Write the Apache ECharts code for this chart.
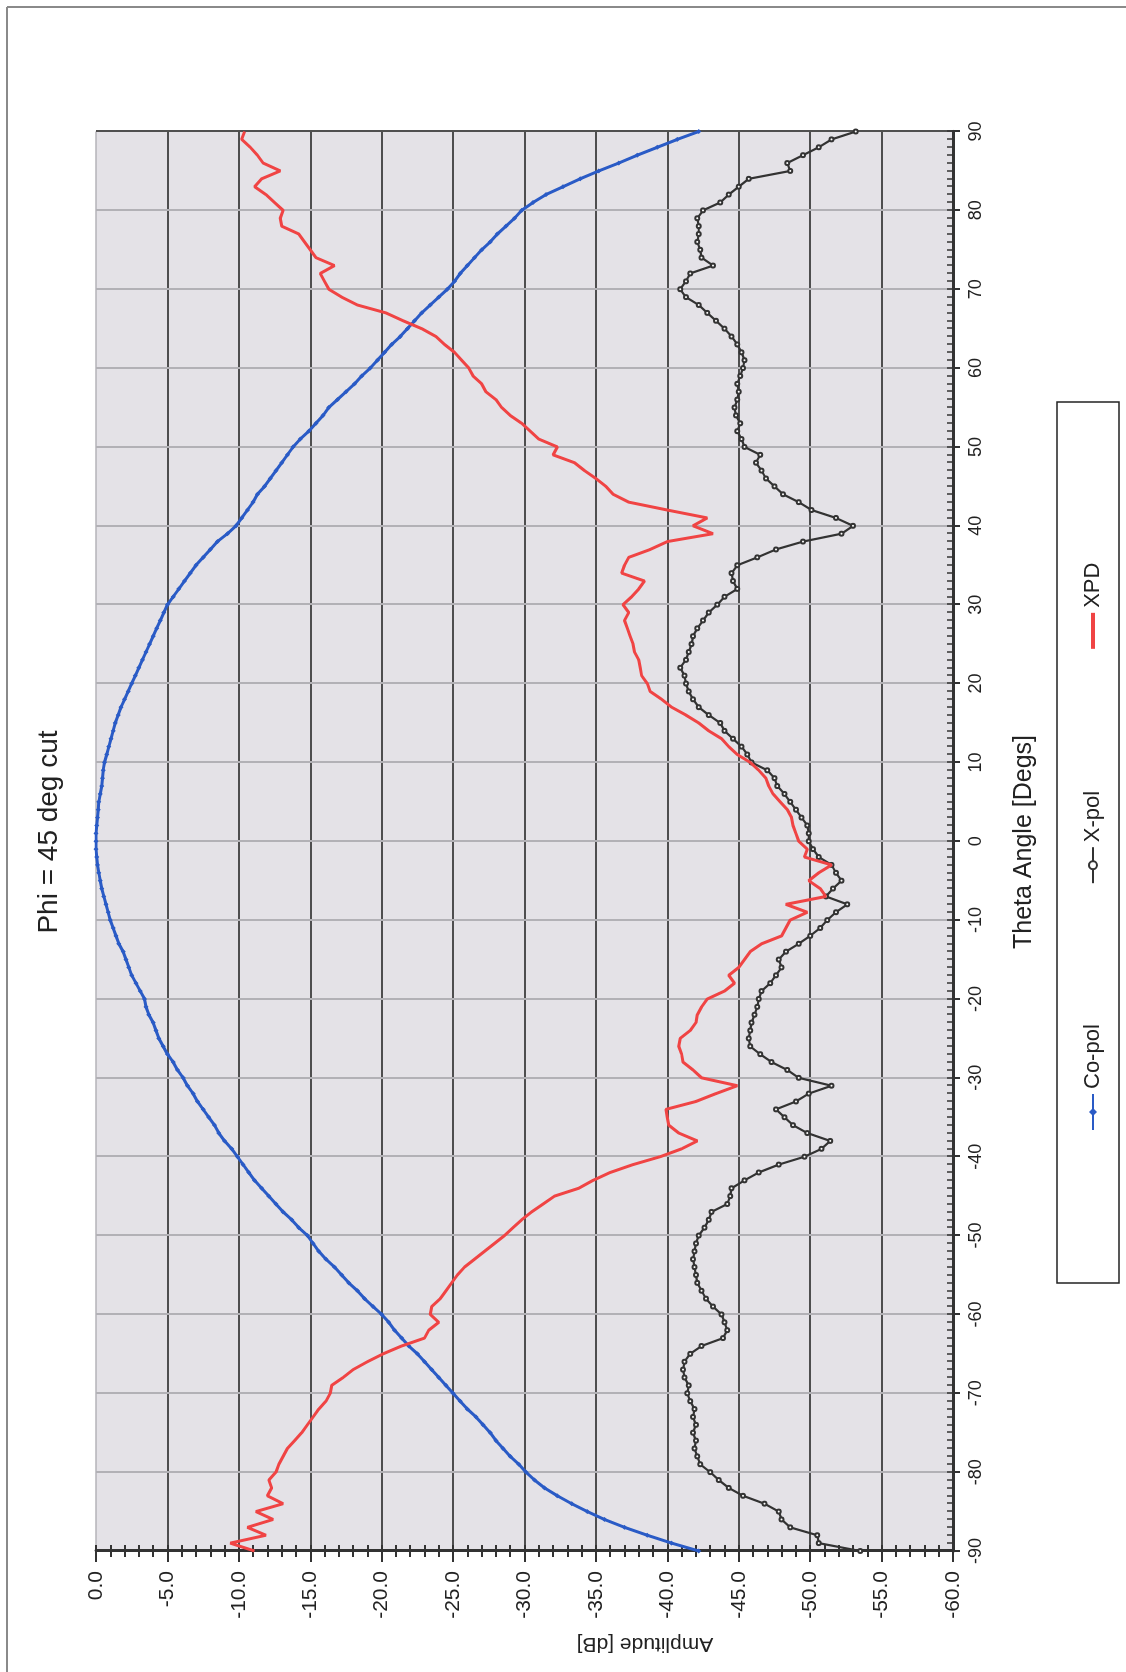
<!DOCTYPE html>
<html>
<head>
<meta charset="utf-8">
<title>Phi = 45 deg cut</title>
<script src="https://cdn.jsdelivr.net/npm/echarts@6/dist/echarts.min.js"></script>
<style>
  html, body { margin: 0; padding: 0; width: 1126px; height: 1672px; overflow: hidden; background: #ffffff; }
  /* the chart is laid out landscape and turned a quarter turn counter-clockwise onto the portrait page */
  #chart {
    position: absolute; left: 0; top: 1672px;
    width: 1672px; height: 1126px;
    transform-origin: 0 0;
    transform: rotate(-90deg);
  }
</style>
</head>
<body>
<div id="chart"></div>
<script>
// Theta sampling: one sample per degree from -90 to 90
const thetaStart = -90;
const thetaEnd = 90;

// Co-polar amplitude [dB], theta = -90 .. 90
const coPol = [
  -42.2, -40.3, -38.6, -37.0, -35.6, -34.4, -33.3, -32.3, -31.4, -30.7,   // -90 .. -81
  -30.1, -29.6, -29.0, -28.5, -28.0, -27.6, -27.1, -26.6, -26.0, -25.5,   // -80 .. -71
  -25.0, -24.5, -24.0, -23.5, -23.0, -22.5, -21.9, -21.4, -20.9, -20.5,   // -70 .. -61
  -20.0, -19.4, -18.8, -18.3, -17.7, -17.2, -16.7, -16.1, -15.6, -15.2,   // -60 .. -51
  -14.8, -14.2, -13.7, -13.1, -12.6, -12.1, -11.6, -11.1, -10.7, -10.3,   // -50 .. -41
  -9.9, -9.5, -9.0, -8.6, -8.3, -7.9, -7.5, -7.1, -6.8, -6.4,             // -40 .. -31
  -6.1, -5.7, -5.4, -5.0, -4.7, -4.4, -4.2, -4.0, -3.7, -3.5,             // -30 .. -21
  -3.4, -3.1, -2.8, -2.5, -2.3, -2.1, -1.9, -1.6, -1.4, -1.2,             // -20 .. -11
  -1.0, -0.85, -0.7, -0.55, -0.4, -0.3, -0.2, -0.1, -0.05, 0,             // -10 .. -1
  0, 0, -0.05, -0.1, -0.15, -0.2, -0.3, -0.4, -0.45, -0.5,                 //   0 .. 9
  -0.6, -0.75, -0.9, -1.05, -1.2, -1.35, -1.55, -1.75, -2.0, -2.25,       //  10 .. 19
  -2.5, -2.75, -3.0, -3.25, -3.5, -3.75, -4.0, -4.25, -4.5, -4.75,        //  20 .. 29
  -5.0, -5.4, -5.8, -6.2, -6.6, -7.0, -7.5, -8.0, -8.5, -9.2,             //  30 .. 39
  -9.8, -10.2, -10.6, -11.0, -11.3, -11.8, -12.2, -12.6, -13.0, -13.4,    //  40 .. 49
  -13.8, -14.3, -14.9, -15.4, -15.9, -16.3, -16.9, -17.5, -18.1, -18.6,   //  50 .. 59
  -19.2, -19.7, -20.2, -20.7, -21.3, -21.8, -22.3, -22.8, -23.4, -24.0,   //  60 .. 69
  -24.6, -25.1, -25.5, -26.0, -26.5, -27.0, -27.6, -28.1, -28.7, -29.3,   //  70 .. 79
  -29.8, -30.6, -31.5, -32.7, -33.9, -35.2, -36.6, -37.9, -39.3, -40.7,   //  80 .. 89
  -42.2                                                                    //  90
];

// Cross-polar amplitude [dB], theta = -90 .. 90
const xPol = [
  -53.5, -50.6, -50.5, -48.6, -48.0, -47.8, -46.8, -45.3, -44.3, -43.6,   // -90 .. -81
  -43.0, -42.3, -42.1, -41.9, -42.0, -41.8, -42.0, -41.8, -41.9, -41.6,   // -80 .. -71
  -41.4, -41.5, -41.2, -41.1, -41.2, -41.6, -42.4, -43.9, -44.2, -44.0,   // -70 .. -61
  -43.8, -43.2, -42.7, -42.4, -42.1, -42.0, -41.9, -41.8, -41.9, -42.0,   // -60 .. -51
  -42.2, -42.6, -42.9, -43.1, -44.2, -44.4, -44.5, -45.4, -46.4, -47.8,   // -50 .. -41
  -49.6, -50.8, -51.4, -49.8, -48.8, -48.2, -47.6, -49.0, -49.9, -51.5,   // -40 .. -31
  -49.2, -48.4, -47.3, -46.5, -45.8, -45.7, -45.8, -45.9, -46.1, -46.3,   // -30 .. -21
  -46.4, -46.6, -47.2, -47.6, -48.0, -47.8, -48.3, -49.2, -50.0, -50.7,   // -20 .. -11
  -51.2, -51.8, -52.6, -51.1, -51.6, -52.2, -51.8, -51.5, -50.6, -50.2,   // -10 .. -1
  -49.9, -49.9, -49.8, -49.4, -49.0, -48.6, -48.2, -47.7, -47.5, -47.0,   //   0 .. 9
  -45.9, -45.6, -45.2, -44.6, -44.0, -43.7, -42.9, -42.2, -41.8, -41.5,   //  10 .. 19
  -41.3, -41.2, -40.9, -41.3, -41.5, -41.7, -41.8, -42.1, -42.5, -42.9,   //  20 .. 29
  -43.5, -44.0, -44.9, -44.6, -44.5, -44.9, -46.3, -47.6, -49.5, -52.2,   //  30 .. 39
  -53.0, -51.8, -50.1, -49.2, -48.1, -47.5, -46.9, -46.6, -46.2, -46.5,   //  40 .. 49
  -45.4, -45.2, -44.9, -45.1, -44.8, -44.7, -44.9, -45.0, -44.9, -45.1,   //  50 .. 59
  -45.3, -45.4, -45.2, -44.9, -44.5, -44.0, -43.4, -42.8, -42.2, -41.3,   //  60 .. 69
  -40.9, -41.3, -41.6, -43.2, -42.4, -42.3, -42.1, -42.2, -42.2, -42.1,   //  70 .. 79
  -42.5, -43.7, -44.3, -45.0, -45.7, -48.6, -48.4, -49.5, -50.6, -51.5,   //  80 .. 89
  -53.2                                                                    //  90
];

// Cross-polar discrimination [dB], theta = -90 .. 90
const xpd = [
  -11.1, -9.4, -11.9, -10.6, -12.4, -11.2, -13.1, -12.0, -12.3, -12.1,    // -90 .. -81
  -12.6, -12.8, -13.1, -13.4, -13.9, -14.4, -14.8, -15.2, -15.6, -16.1,   // -80 .. -71
  -16.4, -16.5, -17.3, -18.0, -19.0, -20.1, -21.4, -23.0, -23.3, -24.0,   // -70 .. -61
  -23.4, -23.5, -24.1, -24.5, -24.9, -25.3, -25.8, -26.5, -27.2, -27.9,   // -60 .. -51
  -28.6, -29.2, -29.8, -30.5, -31.3, -32.1, -33.8, -34.8, -36.0, -37.6,   // -50 .. -41
  -39.5, -41.0, -42.1, -40.8, -40.1, -40.0, -39.9, -42.0, -43.4, -44.9,   // -40 .. -31
  -42.4, -41.8, -41.1, -41.0, -40.8, -40.9, -41.6, -42.0, -42.1, -42.4,   // -30 .. -21
  -42.8, -44.0, -44.7, -44.3, -45.0, -45.4, -45.8, -46.6, -48.0, -48.3,   // -20 .. -11
  -48.6, -49.8, -48.3, -51.1, -50.7, -49.9, -50.6, -51.5, -49.6, -49.8,   // -10 .. -1
  -49.2, -49.0, -48.8, -48.7, -48.4, -47.9, -47.4, -47.1, -46.9, -46.4,   //   0 .. 9
  -45.8, -44.9, -44.3, -43.8, -42.9, -42.2, -41.3, -40.3, -39.6, -38.8,   //  10 .. 19
  -38.6, -38.2, -38.1, -38.0, -37.7, -37.6, -37.4, -37.2, -37.0, -37.3,   //  20 .. 29
  -36.9, -37.5, -38.0, -38.4, -36.8, -37.0, -37.3, -38.8, -40.0, -43.2,   //  30 .. 39
  -41.8, -42.8, -40.0, -37.3, -36.2, -35.7, -35.0, -34.2, -33.5, -32.0,   //  40 .. 49
  -32.3, -31.0, -30.4, -29.8, -29.0, -28.4, -28.0, -27.3, -27.0, -26.4,   //  50 .. 59
  -26.1, -25.6, -25.1, -24.4, -23.8, -22.8, -21.5, -20.3, -18.3, -17.2,   //  60 .. 69
  -16.3, -16.0, -15.7, -16.7, -15.4, -15.0, -14.6, -14.2, -13.0, -12.9,   //  70 .. 79
  -13.1, -12.5, -11.9, -11.1, -11.6, -12.9, -11.7, -11.3, -10.8, -10.2,   //  80 .. 89
  -10.4                                                                    //  90
];

const seriesNames = ['Co-pol', 'X-pol', 'XPD'];
const titleText = 'Phi = 45 deg cut';
const thetaAxisName = 'Theta Angle [Degs]';
const ampAxisName = 'Amplitude [dB]';

function pairs(values) {
  const out = [];
  for (let i = 0; i < values.length; i++) out.push([thetaStart + i, values[i]]);
  return out;
}

const FONT = '"Liberation Sans", Arial, sans-serif';
const INK = '#222222';
const COPOL_COLOR = '#2a5bc6';
const XPOL_COLOR = '#333333';
const XPD_COLOR = '#f04444';

// split line colours, one per tick from min upward
const thetaSplitColors = [];
for (let t = thetaStart; t <= thetaEnd; t += 10) thetaSplitColors.push(t === thetaEnd ? '#505050' : '#b2b1b6');
const ampSplitColors = [];
for (let a = -60; a <= 0; a += 5) ampSplitColors.push(a === 0 ? '#b4b3b8' : '#1c1c1c');

const chart = echarts.init(document.getElementById('chart'), null, { renderer: 'canvas' });

const hiddenAxisParts = { axisLabel: { show: false }, splitLine: { show: false } };

chart.setOption({
  animation: false,
  backgroundColor: '#ffffff',
  textStyle: { fontFamily: FONT, color: INK },
  grid: {
    left: 121, right: 131.5, top: 96, bottom: 173,
    show: true, backgroundColor: '#e4e2e7', borderWidth: 0,
    containLabel: false, outerBoundsMode: 'none'
  },
  xAxis: [
    {
      type: 'value', min: thetaStart, max: thetaEnd, interval: 10, position: 'bottom',
      axisLine: { show: true, onZero: false, lineStyle: { color: '#333333', width: 3 } },
      axisTick: { show: true, length: 7, lineStyle: { color: '#333333', width: 2 } },
      axisLabel: { fontSize: 18, margin: 14, color: INK, fontFamily: FONT },
      splitLine: { show: true, lineStyle: { color: thetaSplitColors, width: 2 } }
    },
    Object.assign({
      type: 'value', min: thetaStart, max: thetaEnd, interval: 1, position: 'bottom',
      axisLine: { show: false, onZero: false },
      axisTick: { show: true, inside: true, length: 6, lineStyle: { color: '#333333', width: 1.5 } }
    }, hiddenAxisParts)
  ],
  yAxis: [
    {
      type: 'value', min: -60, max: 0, interval: 5, position: 'left',
      axisLine: { show: true, onZero: false, lineStyle: { color: '#333333', width: 3 } },
      axisTick: { show: true, length: 11, lineStyle: { color: '#333333', width: 2 } },
      axisLabel: { fontSize: 21, margin: 20, color: INK, fontFamily: FONT,
        formatter: function (v) { return v.toFixed(1); } },
      splitLine: { show: true, lineStyle: { color: ampSplitColors, width: 1.5 } }
    },
    Object.assign({
      type: 'value', min: -60, max: 0, interval: 1, position: 'left',
      axisLine: { show: false, onZero: false },
      axisTick: { show: true, inside: true, length: 6, lineStyle: { color: '#333333', width: 2 } }
    }, hiddenAxisParts),
    Object.assign({
      type: 'value', min: -60, max: 0, interval: 1, position: 'left',
      axisLine: { show: false, onZero: false },
      axisTick: { show: true, inside: false, length: 6, lineStyle: { color: '#333333', width: 2 } }
    }, hiddenAxisParts)
  ],
  legend: {
    data: [
      seriesNames[0],
      seriesNames[1],
      // the XPD key is a plain line, without a marker
      { name: seriesNames[2], itemStyle: { color: 'rgba(0,0,0,0)', borderWidth: 0, opacity: 0 },
        lineStyle: { color: XPD_COLOR, width: 4 } }
    ],
    left: 536, top: 1077,
    itemGap: 140, itemWidth: 36, itemHeight: 10,
    textStyle: { fontSize: 22, color: INK, fontFamily: FONT },
    z: 5
  },
  graphic: [
    // page frame
    { type: 'line', shape: { x1: 0, y1: 7, x2: 1665, y2: 7 }, style: { stroke: '#8a8a8a', lineWidth: 2 }, silent: true },
    { type: 'line', shape: { x1: 1665, y1: 7, x2: 1665, y2: 1126 }, style: { stroke: '#8a8a8a', lineWidth: 2 }, silent: true },
    // legend box
    { type: 'rect', z: 1, shape: { x: 389, y: 1057, width: 881, height: 62 },
      style: { fill: '#ffffff', stroke: '#222222', lineWidth: 1.5 }, silent: true },
    // title
    { type: 'text', x: 840, y: 49, z: 5,
      style: { text: titleText, fontSize: 28, fontFamily: FONT, fill: INK, align: 'center', verticalAlign: 'middle' } },
    // axis names
    { type: 'text', x: 830, y: 1024, z: 5,
      style: { text: thetaAxisName, fontSize: 25, fontFamily: FONT, fill: INK, align: 'center', verticalAlign: 'middle' } },
    { type: 'text', x: 28, y: 645, rotation: Math.PI / 2, z: 5,
      style: { text: ampAxisName, fontSize: 21, fontFamily: FONT, fill: INK, align: 'center', verticalAlign: 'middle' } }
  ],
  series: [
    {
      name: 'Co-pol', type: 'line', data: pairs(coPol),
      xAxisIndex: 0, yAxisIndex: 0,
      symbol: 'diamond', symbolSize: 5, showSymbol: true, showAllSymbol: true,
      lineStyle: { color: COPOL_COLOR, width: 3 },
      itemStyle: { color: COPOL_COLOR },
      z: 3
    },
    {
      name: 'X-pol', type: 'line', data: pairs(xPol),
      xAxisIndex: 0, yAxisIndex: 0,
      symbol: 'emptyCircle', symbolSize: 4, showSymbol: true, showAllSymbol: true,
      lineStyle: { color: XPOL_COLOR, width: 2.2 },
      itemStyle: { color: XPOL_COLOR, borderWidth: 1 },
      z: 3
    },
    {
      name: 'XPD', type: 'line', data: pairs(xpd),
      xAxisIndex: 0, yAxisIndex: 0,
      symbol: 'none',
      lineStyle: { color: XPD_COLOR, width: 3 },
      itemStyle: { color: XPD_COLOR },
      z: 4
    }
  ]
});
</script>
</body>
</html>
